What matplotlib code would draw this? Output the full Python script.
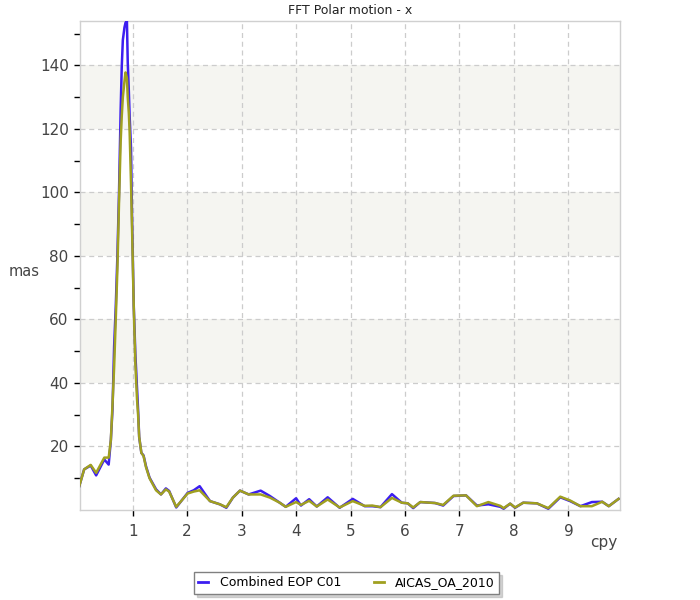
import numpy as np
import matplotlib
matplotlib.use('Agg')
import matplotlib.pyplot as plt
from matplotlib.ticker import MultipleLocator, FixedLocator

# Spectrum (frequency in cpy, amplitude in mas)
freq = [0.02, 0.11, 0.23, 0.33, 0.48, 0.56, 0.60, 0.63, 0.66, 0.69, 0.72, 0.75,
        0.78, 0.80, 0.82, 0.85, 0.87, 0.895, 0.91, 0.93, 0.945, 0.97, 0.99, 1.02,
        1.05, 1.08, 1.10, 1.12, 1.16, 1.20, 1.245, 1.31, 1.43, 1.52, 1.61, 1.67,
        1.80, 2.01, 2.12, 2.23, 2.42, 2.60, 2.72, 2.84, 2.97, 3.13, 3.35, 3.52,
        3.70, 3.81, 4.00, 4.09, 4.24, 4.38, 4.58, 4.80, 5.04, 5.26, 5.40, 5.55,
        5.76, 5.94, 6.05, 6.15, 6.28, 6.55, 6.70, 6.89, 7.12, 7.32, 7.53, 7.75,
        7.81, 7.93, 8.02, 8.17, 8.42, 8.63, 8.85, 9.03, 9.22, 9.43, 9.62, 9.74,
        9.92]
eop_c01 = [7.5, 12.8, 14.0, 10.9, 15.9, 14.3, 22.0, 31.6, 51.5, 64.0, 80.0, 100.0,
           126.0, 139.5, 148.0, 152.0, 153.5, 154.0, 141.0, 132.0, 124.0, 114.0, 91.0, 64.5,
           49.0, 38.6, 31.6, 23.0, 18.0, 17.2, 13.8, 10.2, 6.5, 4.9, 6.8, 6.0,
           0.8, 5.4, 6.2, 7.5, 2.8, 1.8, 0.7, 3.9, 6.1, 4.9, 6.1, 4.4,
           2.3, 1.0, 3.7, 1.4, 3.4, 1.1, 4.0, 0.7, 3.5, 1.2, 1.2, 0.9,
           5.0, 2.3, 2.1, 0.6, 2.5, 2.2, 1.4, 4.4, 4.6, 1.4, 1.8, 1.0,
           0.4, 2.0, 0.7, 2.3, 2.1, 0.4, 4.0, 2.8, 1.2, 2.5, 2.6, 1.2,
           3.5]
aicas = [7.5, 12.8, 14.2, 11.7, 16.5, 16.5, 22.0, 33.0, 45.0, 60.0, 76.0, 97.0,
         116.0, 124.0, 130.0, 135.0, 137.8, 136.0, 130.0, 125.0, 119.0, 103.0, 88.0, 64.0,
         46.0, 35.0, 30.0, 23.0, 18.0, 17.0, 13.5, 10.0, 6.2, 4.9, 6.5, 5.8,
         1.0, 5.2, 5.8, 6.2, 2.8, 1.8, 0.9, 3.9, 6.1, 4.9, 4.9, 3.9,
         2.3, 1.0, 2.5, 1.6, 2.9, 1.1, 3.3, 0.8, 2.8, 1.3, 1.4, 0.9,
         3.8, 2.3, 2.1, 0.8, 2.5, 2.2, 1.6, 4.5, 4.6, 1.2, 2.5, 1.3,
         0.6, 2.0, 0.8, 2.3, 2.1, 0.6, 4.2, 3.0, 1.2, 1.2, 2.6, 1.2,
         3.5]

bands = [(40, 60), (80, 100), (120, 140)]

fig = plt.figure(figsize=(7, 6), dpi=100)
ax = fig.add_axes([0.114, 0.15, 0.772, 0.815])

for lo, hi in bands:
    ax.axhspan(lo, hi, color='#f5f5f1', zorder=0, linewidth=0)

ax.plot(freq, eop_c01, color='#3c1ef0', linewidth=1.8, label='Combined EOP C01', zorder=3)
ax.plot(freq, aicas, color='#a0a020', linewidth=1.8, label='AICAS_OA_2010', zorder=4)

ax.set_xlim(0.03, 9.95)
ax.set_ylim(0, 154)

ax.xaxis.set_major_locator(FixedLocator(range(1, 10)))
ax.yaxis.set_minor_locator(FixedLocator([10, 30, 50, 70, 90, 110, 130, 150]))
ax.set_yticks(range(20, 141, 20))

ax.grid(True, which='major', linestyle=(0, (4, 3)), color='#cccccc', linewidth=0.9)
ax.set_axisbelow(True)

ax.tick_params(which='both', direction='out', length=4, width=1, color='black',
               labelsize=11, labelcolor='#444444')
ax.tick_params(axis='x', pad=6)
ax.tick_params(axis='y', pad=4)

for s in ax.spines.values():
    s.set_color('#d0d0d0')
    s.set_linewidth(1)

ax.set_title('FFT Polar motion - x', fontsize=9, color='#222222', pad=5)
fig.text(9 / 700, 1 - 272 / 600, 'mas', fontsize=10.5, color='#444444',
         ha='left', va='center')
fig.text(617 / 700, 1 - 542 / 600, 'cpy', fontsize=11, color='#444444',
         ha='right', va='center')

leg = fig.legend(loc='center', bbox_to_anchor=(0.495, 1 - 583 / 600), ncol=2,
                 fontsize=9, handlelength=0.8, handletextpad=0.9, columnspacing=2.6,
                 frameon=True, fancybox=False, shadow={'color': '#aaaaaa'}, borderpad=0.35)
leg.get_frame().set_edgecolor('#808080')
leg.get_frame().set_linewidth(1)
for line in leg.get_lines():
    line.set_linewidth(2)

fig.savefig('out.png', dpi=100)
